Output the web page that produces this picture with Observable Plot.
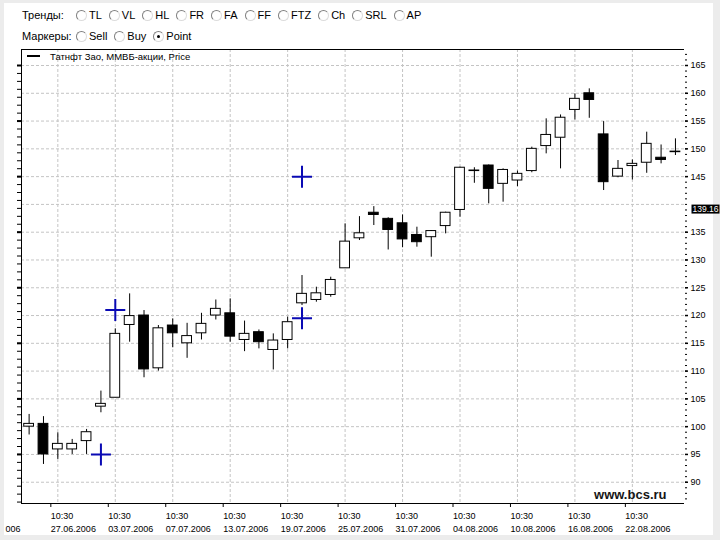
<!DOCTYPE html>
<html><head><meta charset="utf-8">
<script src="https://cdn.jsdelivr.net/npm/d3@7"></script>
<script src="https://cdn.jsdelivr.net/npm/@observablehq/plot@0.6"></script>
<style>
html,body{margin:0;padding:0;background:#ececec;width:720px;height:540px;overflow:hidden;}
#panel{position:absolute;left:4px;top:3px;width:709px;height:532px;background:#fff;}
#controls{position:absolute;left:0;top:0;width:720px;height:45px;font:11px "Liberation Sans",Arial,sans-serif;color:#000;}
.row{position:absolute;left:22px;display:flex;align-items:center;height:14px;white-space:nowrap;}
.row .lab{width:54px;}
.opt{display:flex;align-items:center;margin-right:7px;}
.opt input{appearance:none;-webkit-appearance:none;width:11px;height:11px;margin:0 2px 0 0;border-radius:50%;
  border:1px solid;border-color:#808080 #dcdcdc #dcdcdc #808080;background:#fff;box-sizing:border-box;position:relative;}
.opt input:checked::after{content:"";position:absolute;left:3px;top:3px;width:3px;height:3px;border-radius:50%;background:#000;}
#chart{position:absolute;left:0;top:45px;}
#legend{position:absolute;left:27px;top:50px;height:12px;display:flex;align-items:center;font:9.5px "Liberation Sans",Arial,sans-serif;color:#000;}
#legend .sw{width:13px;height:2px;background:#000;margin-right:10px;}
</style></head>
<body>
<div id="panel"></div>
<div id="controls"></div>
<div id="chart"></div>
<div id="legend"><span class="sw"></span><span id="legtext"></span></div>
<script>
// ---- data ----
const trendOptions = ["TL","VL","HL","FR","FA","FF","FTZ","Ch","SRL","AP"];
const markerOptions = ["Sell","Buy","Point"];
const markerChecked = "Point";
const seriesName = "Татнфт Зао, ММВБ-акции, Price";

const open  = [100.0,100.5,95.9,95.9,97.4,103.6,105.2,118.3,120.0,110.5,118.2,115.0,116.8,120.0,120.4,115.6,117.0,113.8,115.6,122.2,122.8,123.7,128.5,133.9,138.5,137.4,136.6,134.5,134.1,136.1,139.0,146.0,147.0,143.7,144.3,146.0,150.5,152.0,157.0,160.0,152.6,145.0,146.9,147.5,148.4,149.5];
const high  = [102.2,101.8,98.9,97.7,99.5,106.4,117.6,123.9,120.9,118.2,119.4,118.6,120.4,122.8,123.0,119.0,117.4,116.7,119.7,127.2,125.1,126.9,136.5,137.8,139.6,137.6,138.1,135.9,135.3,138.6,146.7,146.6,147.1,146.4,146.0,150.3,155.4,156.1,159.9,160.8,154.9,147.9,148.0,153.0,150.7,151.8];
const low   = [98.5,93.2,94.1,95.0,95.0,102.5,105.2,115.2,108.8,110.0,114.2,112.3,115.6,119.2,115.2,113.5,114.0,110.2,114.0,121.8,122.4,123.3,128.5,133.5,136.2,131.8,132.2,132.3,130.5,134.7,137.7,143.8,140.1,140.4,143.2,145.7,149.1,146.4,155.2,155.5,142.5,144.8,144.4,145.6,147.3,148.8];
const close = [100.5,95.0,96.9,96.9,99.0,104.1,116.7,119.9,110.3,117.7,116.8,116.3,118.5,121.2,116.2,116.7,115.2,115.5,118.8,123.9,124.0,126.4,133.3,134.8,138.1,135.4,133.7,133.2,135.2,138.5,146.6,146.1,142.8,146.2,145.5,150.0,152.5,155.6,159.0,158.8,144.0,146.4,147.3,150.9,148.0,149.4];

const markerIdx = [5, 6, 19, 19];
const markerVal = [95.0, 121.0, 145.0, 119.5];

const tickIdx = [2,6,10,14,18,22,26,30,34,38,42];
const tickTime = "10:30";
const tickDates = ["27.06.2006","03.07.2006","07.07.2006","13.07.2006","19.07.2006","25.07.2006","31.07.2006","04.08.2006","10.08.2006","16.08.2006","22.08.2006"];
const cutLabel = ["006"];
const yTicks = [90,95,100,105,110,115,120,125,130,135,140,145,150,155,160,165];
const lastPrice = [139.16];
const watermark = ["www.bcs.ru"];

// ---- controls ----
function row(label, opts, checked, top){
  const r = document.createElement("div"); r.className="row"; r.style.top = top+"px";
  const l = document.createElement("span"); l.className="lab"; l.textContent=label; r.appendChild(l);
  opts.forEach(o=>{
    const s=document.createElement("label"); s.className="opt";
    const inp=document.createElement("input"); inp.type="radio"; inp.name=label; if(o===checked) inp.checked=true;
    s.appendChild(inp); s.appendChild(document.createTextNode(o)); r.appendChild(s);
  });
  document.getElementById("controls").appendChild(r);
}
row("Тренды:", trendOptions, null, 8);
row("Маркеры:", markerOptions, markerChecked, 29);
document.getElementById("legtext").textContent = seriesName;

// ---- chart ----
const data = open.map((o,i)=>({i, o, h: high[i], l: low[i], c: close[i]}));
const markers = markerIdx.map((i,k)=>({i, v: markerVal[k]}));
const xDom = [-0.53, 45.63], yDom = [86.17, 167.88];
const font = "Liberation Sans, Arial, sans-serif";

const crossSym = {draw(ctx, size){ const r=Math.sqrt(size/Math.PI); ctx.moveTo(-r,0); ctx.lineTo(r,0); ctx.moveTo(0,-r*1.1); ctx.lineTo(0,r*1.1); }};
const boxSym = {draw(ctx){ ctx.rect(7,-4.5,28,9); }};
const minorRight = d3.range(87,168,1);
const minorLeft = d3.range(165, 86, -10/7);
const majorLeft = d3.range(165, 86, -10);

const grid = {stroke:"#c4c4c4", strokeOpacity:1, strokeDasharray:"3,2"};
const chart = Plot.plot({
  width:720, height:495, marginTop:4, marginBottom:37, marginLeft:21, marginRight:36,
  style:{background:"transparent", fontFamily:font, fontSize:"9px", color:"#000"},
  x:{type:"linear", domain:xDom},
  y:{type:"linear", domain:yDom},
  color:{type:"identity"},
  marks:[
    Plot.gridY(yTicks, grid),
    Plot.gridX(tickIdx, grid),
    Plot.ruleY([yDom[1]], {stroke:"black"}),
    Plot.ruleY([yDom[0]], {stroke:"black"}),
    Plot.ruleX([xDom[0]], {stroke:"black"}),
    Plot.axisX(tickIdx, {tickSize:4, tickPadding:2, textAnchor:"start", dx:-7, fontSize:9, lineHeight:1.45, label:null,
      tickFormat: d => tickTime + "\n" + tickDates[tickIdx.indexOf(d)]}),
    Plot.axisY(yTicks.filter(v => Math.abs(v - lastPrice[0]) > 2.5), {anchor:"right", tickSize:3, tickPadding:3, fontSize:9, label:null, strokeWidth:1.5}),
    Plot.axisY(minorRight, {anchor:"right", tickSize:2, tickFormat:()=>"", label:null}),
    Plot.axisY(minorLeft, {anchor:"left", tickSize:4, tickFormat:()=>"", label:null}),
    Plot.axisY(majorLeft, {anchor:"left", tickSize:4, strokeWidth:2, tickFormat:()=>"", label:null}),
    Plot.text(cutLabel, {frameAnchor:"bottom-left", text:d=>d, textAnchor:"start", dx:-16, dy:28, fontSize:9}),
    Plot.text(watermark, {frameAnchor:"bottom-right", text:d=>d, textAnchor:"end", lineAnchor:"bottom", dx:-18, dy:-5, fontWeight:"bold", fontSize:13, fill:"#151515"}),
    Plot.ruleX(data, {x:"i", y1:"l", y2:"h", stroke:"black", strokeWidth:1}),
    Plot.rect(data, {x1:d=>d.i-0.34, x2:d=>d.i+0.34, y1:"o", y2:"c", fill:d=>d.c>=d.o?"white":"black", stroke:"black", strokeWidth:1}),
    Plot.dot(markers, {x:"i", y:"v", r:10, symbol:crossSym, stroke:"#0a0ab4", strokeWidth:2, fill:"none"}),
    Plot.dot(lastPrice, {y:d=>d, frameAnchor:"right", symbol:boxSym, fill:"black", stroke:"none", r:5}),
    Plot.text(lastPrice, {y:d=>d, frameAnchor:"right", text:d=>d.toFixed(2), textAnchor:"start", dx:8, fill:"white", fontSize:8.5})
  ]
});
document.getElementById("chart").appendChild(chart);
</script>
</body></html>
